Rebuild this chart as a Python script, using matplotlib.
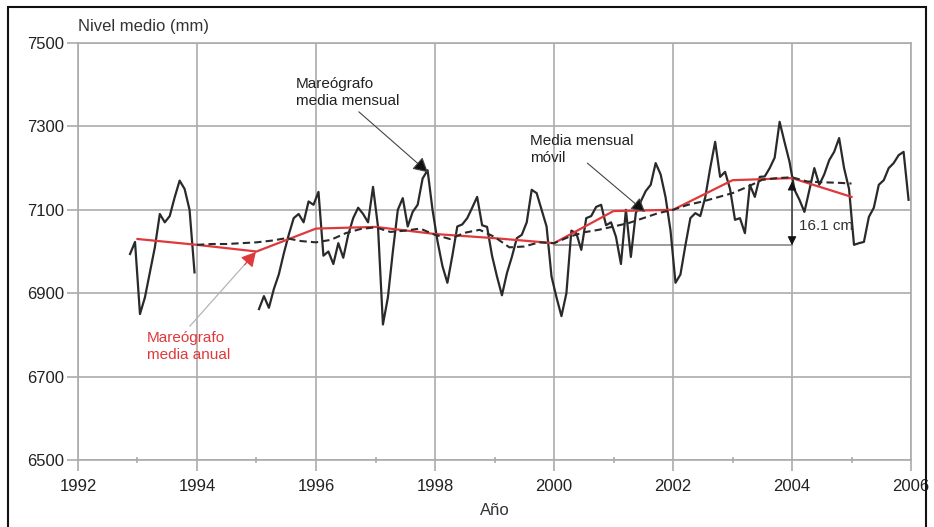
import numpy as np
import matplotlib
matplotlib.use("Agg")
import matplotlib.pyplot as plt
from matplotlib.patches import Rectangle

plt.rcParams['font.family'] = ['Liberation Sans', 'DejaVu Sans']

# Monthly tide-gauge means (mm); first segment Nov 1992 - Dec 1993
monthly_a_start = (1992, 11)
monthly_a = [6994, 7023, 6850, 6890, 6950, 7010, 7090, 7070, 7085, 7130,
             7170, 7150, 7100, 6950]

# Second segment Jan 1995 - Dec 2005
monthly_b_start = (1995, 1)
monthly_b = [
    6862, 6893, 6865, 6910, 6945, 6995, 7040, 7080, 7090, 7070, 7120, 7112,  # 1995
    7143, 6990, 7000, 6970, 7020, 6985, 7040, 7080, 7105, 7090, 7070, 7155,  # 1996
    7060, 6825, 6890, 7000, 7100, 7128, 7060, 7095, 7112, 7175, 7195, 7100,  # 1997
    7025, 6965, 6925, 6990, 7060, 7065, 7080, 7105, 7131, 7063, 7059, 6990,  # 1998
    6940, 6895, 6948, 6987, 7032, 7040, 7070, 7148, 7140, 7100, 7060, 6940,  # 1999
    6890, 6845, 6900, 7050, 7044, 7004, 7080, 7085, 7107, 7112, 7063, 7070,  # 2000
    7035, 6970, 7100, 6987, 7092, 7120, 7145, 7160, 7212, 7185, 7130, 7050,  # 2001
    6925, 6945, 7015, 7080, 7092, 7085, 7130, 7200, 7263, 7179, 7191, 7150,  # 2002
    7076, 7080, 7044, 7160, 7131, 7179, 7180, 7200, 7225, 7311, 7262, 7215,  # 2003
    7148, 7124, 7095, 7148, 7200, 7160, 7185, 7219, 7239, 7272, 7200, 7150,  # 2004
    7016, 7020, 7023, 7083, 7105, 7160, 7171, 7200, 7212, 7231, 7239, 7124,  # 2005
]

# Annual means (mm)
annual_years = [1993, 1994, 1995, 1996, 1997, 1998, 1999, 2000, 2001, 2002,
                2003, 2004, 2005]
annual_vals = [7030, 7016, 7000, 7055, 7059, 7042, 7032, 7020, 7097, 7100,
               7171, 7176, 7131]

# 12-month running mean (mm), quarterly samples
running_years = [1994.00, 1994.25, 1994.50, 1994.75, 1995.00, 1995.25, 1995.50,
                 1995.75, 1996.00, 1996.25, 1996.50, 1996.75, 1997.00, 1997.25,
                 1997.50, 1997.75, 1998.00, 1998.25, 1998.50, 1998.75, 1999.00,
                 1999.25, 1999.50, 1999.75, 2000.00, 2000.25, 2000.50, 2000.75,
                 2001.00, 2001.25, 2001.50, 2001.75, 2002.00, 2002.25, 2002.50,
                 2002.75, 2003.00, 2003.25, 2003.50, 2003.75, 2004.00, 2004.25,
                 2004.50, 2004.75, 2005.00]
running_vals = [7016, 7018, 7018, 7020, 7022, 7026, 7032, 7025, 7022, 7028,
                7044, 7054, 7058, 7047, 7050, 7055, 7040, 7030, 7045, 7052,
                7035, 7010, 7012, 7022, 7020, 7035, 7046, 7052, 7060, 7068,
                7080, 7092, 7100, 7112, 7120, 7130, 7140, 7155, 7172, 7176,
                7178, 7168, 7166, 7165, 7163]

# Rise between 2000 and 2004 annual means
rise_from = (2000, 7015)
rise_to = (2004, 7176)
rise_label = "16.1 cm"

x_ticks = [1992, 1994, 1996, 1998, 2000, 2002, 2004, 2006]
y_ticks = [6500, 6700, 6900, 7100, 7300, 7500]


def month_times(start, n):
    y0, m0 = start
    return np.array([y0 + (m0 - 1 + i + 0.5) / 12.0 for i in range(n)])


fig = plt.figure(figsize=(9.34, 5.27), dpi=100)
ax = fig.add_axes([0.0835, 0.1271, 0.8919, 0.7913])

grid_c = '#ababab'
ax.set_xlim(1992, 2006)
ax.set_ylim(6500, 7500)
ax.set_xticks(x_ticks)
ax.set_xticks(np.arange(1993, 2006, 2), minor=True)
ax.set_yticks(y_ticks)
ax.grid(True, which='major', color=grid_c, linewidth=1.2)
for s in ax.spines.values():
    s.set_color(grid_c)
    s.set_linewidth(1.2)
ax.tick_params(axis='both', which='major', colors=grid_c, labelcolor='#222222',
               labelsize=12, length=8, width=1.2)
ax.tick_params(axis='x', which='minor', colors=grid_c, length=5, width=1.2,
               direction='inout')
ax.tick_params(axis='x', pad=6)
ax.tick_params(axis='y', pad=2)

line_c = '#2a2a2a'
ax.plot(month_times(monthly_a_start, len(monthly_a)), monthly_a,
        color=line_c, lw=1.6, zorder=4)
ax.plot(month_times(monthly_b_start, len(monthly_b)), monthly_b,
        color=line_c, lw=1.6, zorder=4)
ax.plot(annual_years, annual_vals, color='#e0393b', lw=1.6, zorder=5)
ax.plot(running_years, running_vals, color=line_c, lw=1.5,
        linestyle=(0, (3.5, 2)), zorder=6)

# reference level and vertical rise arrow
ax.plot([rise_from[0], rise_to[0]], [rise_from[1], rise_from[1]],
        color='#8a8a8a', lw=1.2, zorder=3)
ax.annotate('', xy=(rise_to[0], rise_to[1] - 8), xytext=(rise_to[0], rise_from[1]),
            arrowprops=dict(arrowstyle='<|-|>', color='#111111', lw=0.8,
                            mutation_scale=13, shrinkA=0, shrinkB=0), zorder=7)
ax.text(2004.12, 7061, rise_label, fontsize=11, color='#333333',
        ha='left', va='center', zorder=8)

head = '-|>,head_length=0.55,head_width=0.3'

# labels with leader arrows
ax.text(1995.66, 7381, "Mareógrafo\nmedia mensual", fontsize=11,
        color='#222222', ha='left', va='center', linespacing=1.25)
ax.annotate('', xy=(1997.88, 7190), xytext=(1996.72, 7335),
            arrowprops=dict(arrowstyle=head, color='#444444', lw=0.8,
                            mutation_scale=16, shrinkA=0, shrinkB=0,
                            fc='#111111'), zorder=9)

ax.text(1999.60, 7244, "Media mensual\nmóvil", fontsize=11,
        color='#222222', ha='left', va='center', linespacing=1.25)
ax.annotate('', xy=(2001.53, 7095), xytext=(2000.56, 7212),
            arrowprops=dict(arrowstyle=head, color='#444444', lw=0.8,
                            mutation_scale=15, shrinkA=0, shrinkB=0,
                            fc='#111111'), zorder=9)

ax.text(1993.16, 6773, "Mareógrafo\nmedia anual", fontsize=11,
        color='#e0393b', ha='left', va='center', linespacing=1.25)
ax.annotate('', xy=(1994.99, 6999), xytext=(1993.88, 6821),
            arrowprops=dict(arrowstyle='-', color='#b5b5b5', lw=0.9,
                            shrinkA=0, shrinkB=0))
ax.annotate('', xy=(1994.99, 6999), xytext=(1994.80, 6968),
            arrowprops=dict(arrowstyle=head, color='#e0393b', lw=0.8,
                            mutation_scale=16, shrinkA=0, shrinkB=0), zorder=9)

ax.set_xlabel("Año", fontsize=12, color='#333333', labelpad=6)
fig.text(78 / 934, 1 - 27 / 527, "Nivel medio (mm)", fontsize=12,
         color='#333333', ha='left', va='center')

# outer frame
fig.patches.append(Rectangle((8 / 934, -0.01), (926 - 8) / 934, 1 - 7 / 527 + 0.01,
                             transform=fig.transFigure, fill=False,
                             edgecolor='#111111', lw=1.5))

fig.savefig("out.png", dpi=100)
